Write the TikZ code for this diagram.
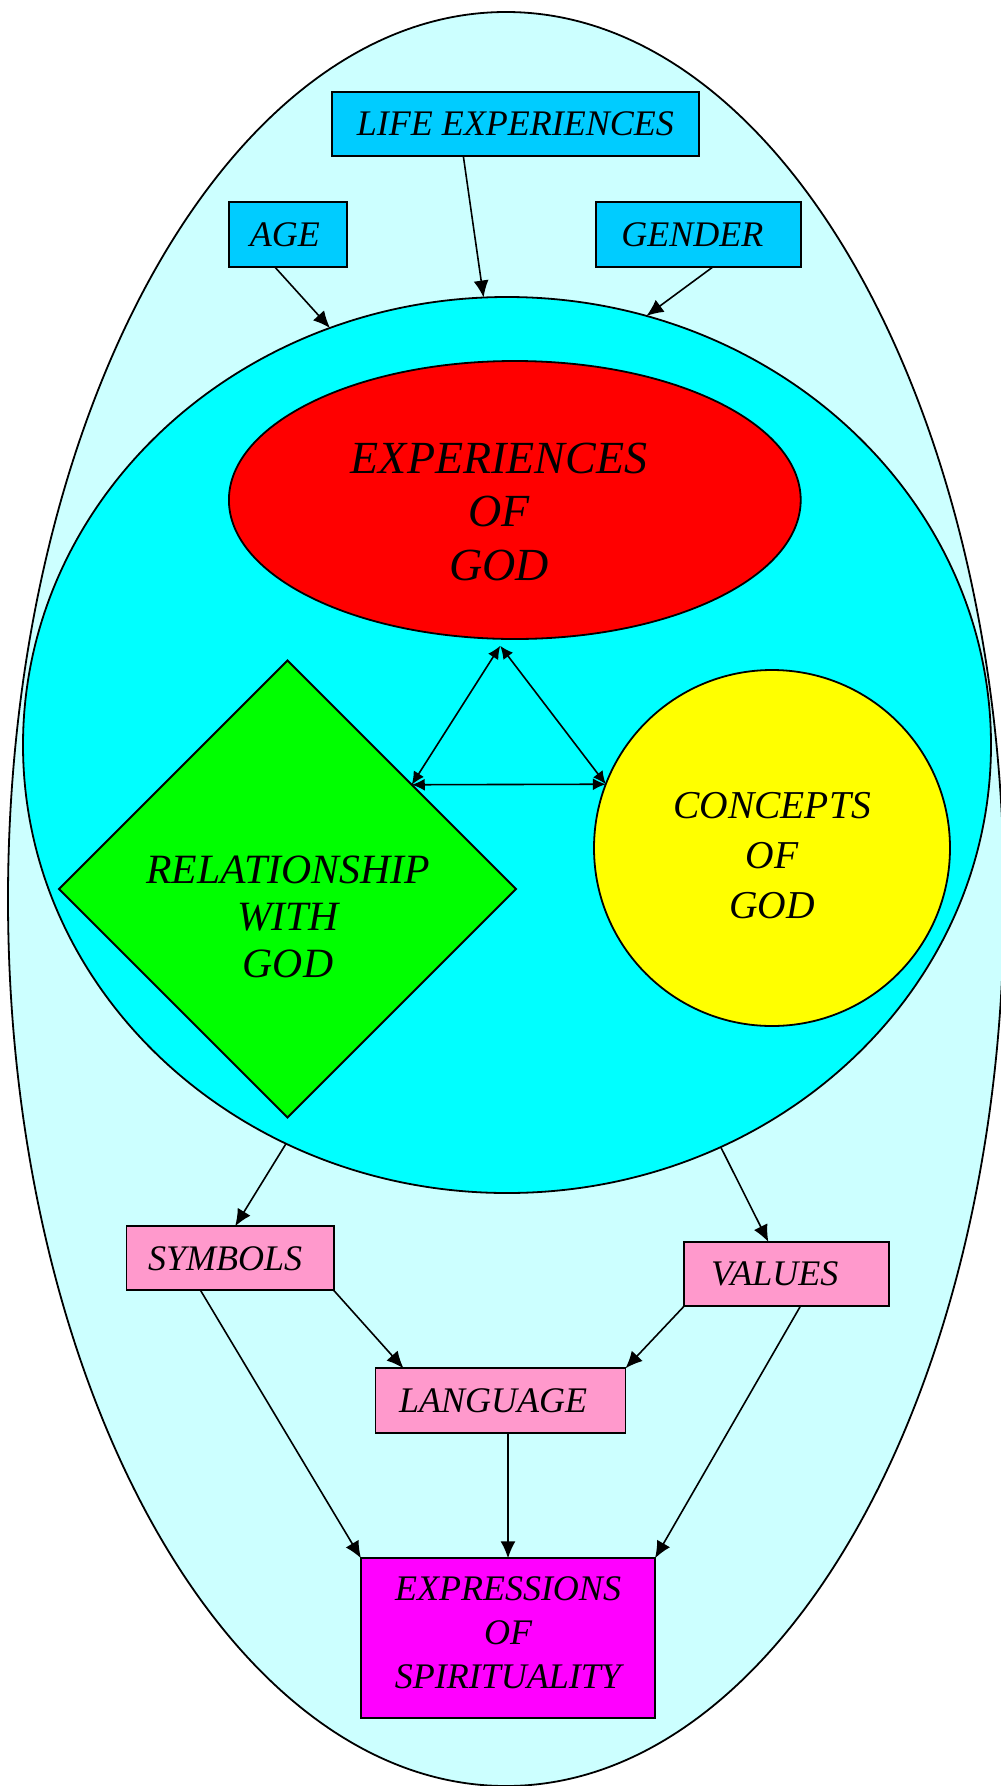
\documentclass[tikz,border=0pt]{standalone}
\usepackage{fontspec}
\setmainfont{Liberation Serif}
\usetikzlibrary{shapes.geometric,arrows.meta}
\definecolor{outerbg}{HTML}{CCFFFF}
\definecolor{circbg}{HTML}{00FFFF}
\definecolor{redbg}{HTML}{FF0000}
\definecolor{greenbg}{HTML}{00FF00}
\definecolor{yellowbg}{HTML}{FFFF00}
\definecolor{topblue}{HTML}{00CCFF}
\definecolor{pinkbg}{HTML}{FF99CC}
\definecolor{magbg}{HTML}{FF00FF}
\tikzset{
  shp/.style={draw, line width=1.8pt, inner sep=0pt, outer sep=0pt},
  box/.style={shp, font=\itshape\fontsize{36}{44}\selectfont},
  arr/.style={line width=1.6pt, -{Latex[length=17pt,width=15pt]}},
  tri/.style={line width=1.6pt, {Latex[length=13pt,width=12pt]}-{Latex[length=13pt,width=12pt]}},
}
\begin{document}
\begin{tikzpicture}[x=1pt,y=-1pt]
\useasboundingbox (0,0) rectangle (1001,1786);
\clip (0,0) rectangle (1001,1786);
\fill[white] (0,0) rectangle (1001,1786);
% large shapes
\node[shp, ellipse, fill=outerbg, minimum width=996pt, minimum height=1774pt] (outer) at (506,899) {};
\node[shp, ellipse, fill=circbg, minimum width=968pt, minimum height=896pt] (circ) at (507,745) {};
\node[shp, ellipse, fill=redbg, minimum width=571.8pt, minimum height=278pt] (exp) at (514.8,500) {};
\node[shp, diamond, fill=greenbg, minimum width=457pt, minimum height=457pt] (rel) at (287.5,889) {};
\node[shp, circle, fill=yellowbg, minimum size=356pt] (con) at (772,848) {};
% texts of the large shapes (anchor base = baseline of the last line)
\node[anchor=base, align=center, inner sep=0pt, font=\itshape\fontsize{46}{53.5}\selectfont] (expt) at (499,580) {EXPERIENCES\\OF\\GOD};
\node[anchor=base, align=center, inner sep=0pt, font=\itshape\fontsize{41.7}{47}\selectfont] (relt) at (288,977) {RELATIONSHIP\\WITH\\GOD};
\node[anchor=base, align=center, inner sep=0pt, font=\itshape\fontsize{39.5}{50}\selectfont] (cont) at (772,918) {CONCEPTS\\OF\\GOD};
% boxes
\node[box, fill=topblue, minimum width=367.3pt, minimum height=64.3pt] (life) at (515.3,123.8) {LIFE EXPERIENCES};
\node[box, fill=topblue, minimum width=117.7pt, minimum height=64.7pt] (age) at (287.9,234.3) {AGE\kern6pt};
\node[box, fill=topblue, minimum width=205pt, minimum height=64.7pt] (gender) at (698.3,234.3) {GENDER\kern12pt};
\node[box, fill=pinkbg, minimum width=207.2pt, minimum height=64pt] (symbols) at (230.1,1258.3) {SYMBOLS\kern10pt};
\node[box, fill=pinkbg, minimum width=205.1pt, minimum height=64pt] (values) at (786.8,1274) {VALUES\kern24pt};
\node[box, fill=pinkbg, minimum width=250pt, minimum height=64.4pt] (language) at (500.5,1400.5) {LANGUAGE\kern15pt};
\node[box, fill=magbg, minimum width=294pt, minimum height=160pt, align=center] (expr) at (508,1638.3) {EXPRESSIONS\\OF\\SPIRITUALITY\rule[-12pt]{0pt}{1pt}};
% arrows
\draw[arr] ([xshift=-13.4pt]age.south) -- (circ.113.1);
\draw[arr] ([xshift=-52pt]life.south) -- (circ.93.75);
\draw[arr] ([xshift=15pt]gender.south) -- (circ.72.9);
\draw[arr] (circ.241.4) -- ([xshift=5pt]symbols.north);
\draw[arr] (circ.298.8) -- ([xshift=-18.4pt]values.north);
\draw[arr] (symbols.south east) -- ([xshift=28pt]language.north west);
\draw[arr] (values.south west) -- (language.north east);
\draw[arr] ([xshift=-29.6pt]symbols.south) -- (expr.north west);
\draw[arr] ([xshift=7.5pt]language.south) -- ([xshift=7.5pt]language.south |- expr.north);
\draw[arr] ([xshift=13.7pt]values.south) -- (expr.north east);
% triangle
\draw[tri] ([yshift=-7pt]exp.264.5) -- (rel.40);
\draw[tri] ([yshift=-7pt]exp.264.5) -- (con.159.3);
\draw[tri] (rel.40) -- (con.159.3);
\end{tikzpicture}
\end{document}
